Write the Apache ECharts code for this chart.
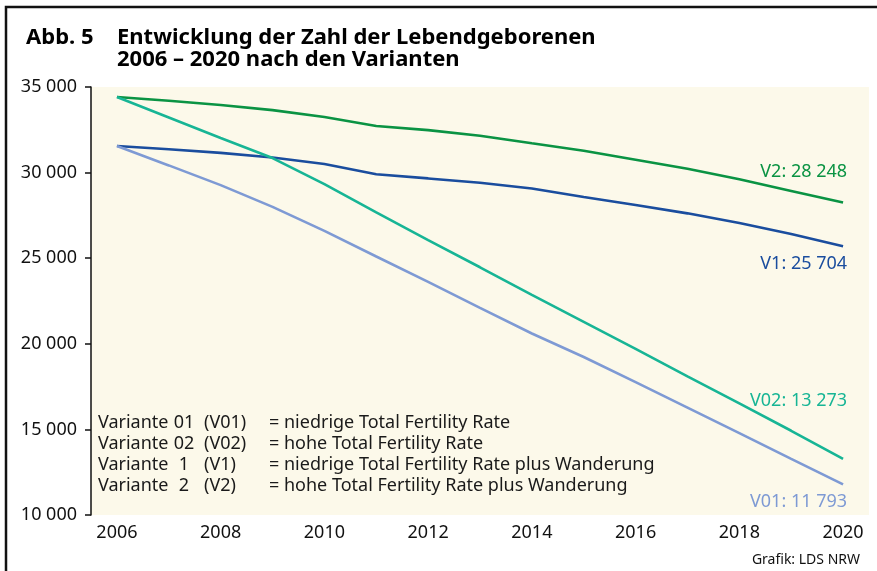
<!DOCTYPE html>
<html><head><meta charset="utf-8">
<script src="https://cdn.jsdelivr.net/npm/echarts@6/dist/echarts.min.js"></script>
<style>html,body{margin:0;padding:0;background:#fff}#c{width:877px;height:571px}</style>
</head><body><div id="c"></div>
<script>
var years = ['2006','2007','2008','2009','2010','2011','2012','2013','2014','2015','2016','2017','2018','2019','2020'];
var v2  = [34420,34200,33950,33650,33250,32720,32480,32150,31710,31280,30750,30220,29610,28930,28248];
var v1  = [31550,31360,31150,30880,30500,29900,29660,29410,29070,28570,28110,27620,27060,26410,25704];
var v02 = [34420,33220,32020,30850,29330,27680,26060,24470,22860,21280,19700,18100,16520,14920,13273];
var v01 = [31550,30420,29270,28000,26600,25100,23620,22100,20600,19230,17760,16270,14780,13280,11793];
var seriesNames = ['V2','V1','V02','V01'];
var seriesColors = ['#0a9343','#1a4d9e','#17b595','#7e9ad4'];
var yTicks = [10000,15000,20000,25000,30000,35000];
var legendLines = [
  ['Variante','01','(V01)','= niedrige Total Fertility Rate'],
  ['Variante','02','(V02)','= hohe Total Fertility Rate'],
  ['Variante','1','(V1)','= niedrige Total Fertility Rate plus Wanderung'],
  ['Variante','2','(V2)','= hohe Total Fertility Rate plus Wanderung']
];
var titleLine1a = 'Abb. 5';
var titleLine1b = 'Entwicklung der Zahl der Lebendgeborenen';
var titleLine2 = '2006 – 2020 nach den Varianten';
var sourceText = 'Grafik: LDS NRW';

var FONT = '"Noto Sans", sans-serif';
function fmt(v){ return String(v).replace(/\B(?=(\d{3})+(?!\d))/g,' '); }

var allData = [v2, v1, v02, v01];
var labelOffsets = [[4,-31],[4,18],[4,-58],[4,18]];

var series = allData.map(function(arr, i){
  return {
    name: seriesNames[i], type:'line', data: arr,
    symbol:'none', smooth:false,
    lineStyle:{color: seriesColors[i], width: 2.6},
    itemStyle:{color: seriesColors[i]},
    endLabel:{show:true, formatter: seriesNames[i] + ': ' + fmt(arr[arr.length-1]),
      align:'right', distance:0, offset: labelOffsets[i],
      color: seriesColors[i], fontSize: 18, fontFamily: FONT},
    z: 3
  };
});

var graphics = [
  {type:'polyline', shape:{points:[[6,571],[6,7],[877,7]]}, style:{stroke:'#111', lineWidth:2.5, fill:null}},
  {type:'text', left:26, top:27, style:{text:titleLine1a, font:'bold 22px ' + FONT, fill:'#000'}},
  {type:'text', left:117, top:27, style:{text:titleLine1b, font:'bold 22px ' + FONT, fill:'#000'}},
  {type:'text', left:117, top:49, style:{text:titleLine2, font:'bold 22px ' + FONT, fill:'#000'}},
  {type:'text', right:17, top:553, style:{text:sourceText, font:'14px ' + FONT, fill:'#111'}}
];
var colX = [98, 184, 204, 269];
legendLines.forEach(function(line, k){
  var y = 414 + k*20.8;
  var f = '18px ' + FONT;
  graphics.push({type:'text', x:colX[0], y:y, style:{text:line[0], font:f, fill:'#1a1a1a'}, z:10});
  graphics.push({type:'text', x:colX[1], y:y, style:{text:line[1], font:f, fill:'#1a1a1a', textAlign:'center'}, z:10});
  graphics.push({type:'text', x:colX[2], y:y, style:{text:line[2], font:f, fill:'#1a1a1a'}, z:10});
  graphics.push({type:'text', x:colX[3], y:y, style:{text:line[3], font:f, fill:'#1a1a1a'}, z:10});
});

var chart = echarts.init(document.getElementById('c'), null, {renderer:'canvas'});
chart.setOption({
  animation:false,
  backgroundColor:'#ffffff',
  grid:{left:91, right:8, top:87, bottom:56, show:true, backgroundColor:'#fcf9ea', borderWidth:0},
  xAxis:{type:'category', data: years, boundaryGap:true,
    axisLine:{show:false}, axisTick:{show:false},
    axisLabel:{interval:1, color:'#111', fontSize:18, fontFamily:FONT, margin:9}},
  yAxis:{type:'value', min:yTicks[0], max:yTicks[yTicks.length-1], interval:5000,
    axisLine:{show:true, lineStyle:{color:'#111', width:1.5}},
    axisTick:{show:true, inside:false, length:6, lineStyle:{color:'#111', width:1.5}},
    splitLine:{show:false},
    axisLabel:{color:'#111', fontSize:18, fontFamily:FONT, margin:14, formatter:function(v){return fmt(v);}}},
  series: series,
  graphic: graphics
});
</script></body></html>
